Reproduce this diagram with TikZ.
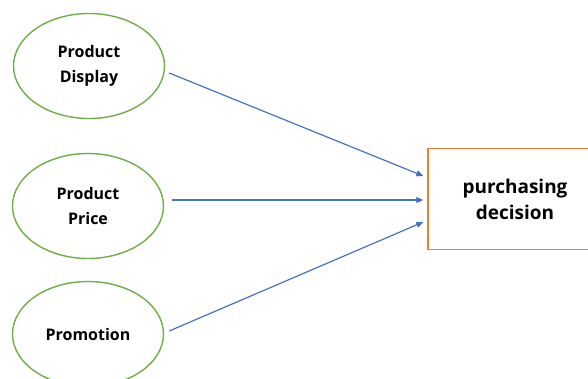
\documentclass[tikz,border=0pt]{standalone}
\usepackage{fontspec}
\setmainfont{Open Sans}
\usetikzlibrary{arrows.meta,shapes.geometric}

\definecolor{ovalgreen}{HTML}{70AD47}
\definecolor{arrowblue}{HTML}{4472C4}
\definecolor{boxorange}{HTML}{ED7D31}

\begin{document}
\begin{tikzpicture}
    [
        x=1pt, y=-1pt,
        oval_style/.style={ellipse, draw=ovalgreen, line width=1.4pt, minimum width=151pt, minimum height=105pt, inner sep=0pt, align=center, font=\fontsize{16}{25}\selectfont\bfseries},
        box_style/.style={rectangle, draw=boxorange, line width=1.4pt, minimum width=174pt, minimum height=101pt, inner sep=0pt, align=center, font=\fontsize{19}{26}\selectfont\bfseries},
        arrow_style/.style={draw=arrowblue, line width=1.2pt, -{Triangle[width=6pt,length=7pt]}}
    ]
        \useasboundingbox (0,0) rectangle (588,378);

        \node[oval_style] (display) at (89,66) {Product\\Display};
        \node[oval_style] (price) at (88,206) {Product\\Price};
        \node[oval_style] (promotion) at (88,334) {Promotion};

        \node[box_style] (decision) at (515,199) {purchasing\\decision};

        \draw[arrow_style] ([xshift=4pt,yshift=-7pt]display.east) -- ([xshift=-4pt,yshift=23pt]decision.west);
        \draw[arrow_style] ([xshift=8pt,yshift=6pt]price.east) -- ([xshift=-4pt,yshift=-1pt]decision.west);
        \draw[arrow_style] ([xshift=5pt,yshift=3pt]promotion.east) -- ([xshift=-4pt,yshift=-23pt]decision.west);
    \end{tikzpicture}
\end{document}
